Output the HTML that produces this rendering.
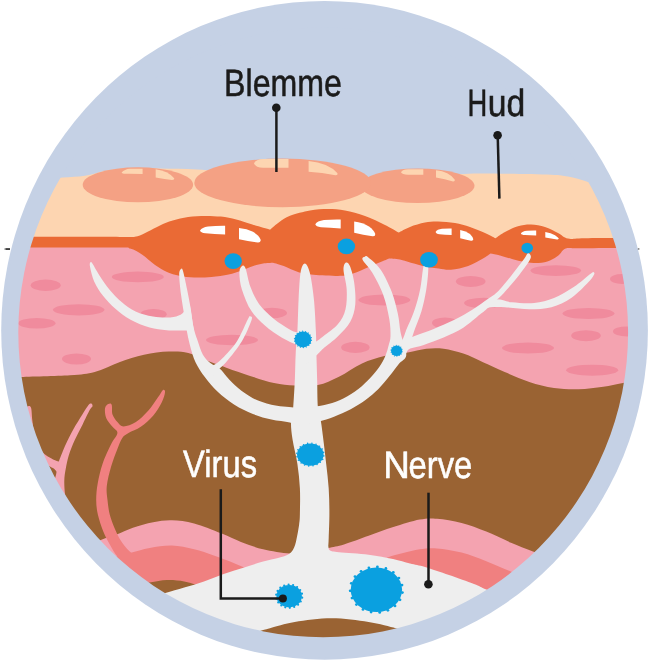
<!DOCTYPE html>
<html><head><meta charset="utf-8">
<style>
html,body{margin:0;padding:0;background:#fff;}
body{width:649px;height:662px;overflow:hidden;font-family:"Liberation Sans",sans-serif;}
svg{display:block;}
text{font-family:"Liberation Sans",sans-serif;}
</style></head><body>
<svg width="649" height="662" viewBox="0 0 649 662">
<defs><clipPath id="c"><circle cx="323.2" cy="332.4" r="308.5"/></clipPath></defs>
<ellipse cx="324.55" cy="330.35" rx="323.35" ry="329.35" fill="#c5d1e5"/>
<g clip-path="url(#c)">
<path d="M40,179 C43.8,178.8 55.5,178 63,177.5 C70.5,177 78,176.9 85,175.8 C92,174.7 98.3,172.2 105,171 C111.7,169.8 115.8,169 125,168.6 C134.2,168.2 148,168.3 160,168.5 C172,168.7 183.7,168.8 197,169.5 C210.3,170.2 222.8,171.8 240,173 C257.2,174.2 283.3,175.8 300,177 C316.7,178.2 329,179.2 340,180 C351,180.8 357.3,182 366,182 C374.7,182 383,180.8 392,180 C401,179.2 408,178 420,177 C432,176 450.7,174.6 464,174 C477.3,173.4 485.5,173.6 500,173.7 C514.5,173.8 539.7,174.2 551,174.7 C562.3,175.2 561.8,175.4 568,176.6 C574.2,177.8 581,179.9 588,182 C595,184.1 606.3,187.8 610,189 L649,260 L0,260Z" fill="#fdd5b1"/>
<g fill="#f4a184">
<ellipse cx="417.6" cy="185.75" rx="56.9" ry="17.25"/>
<ellipse cx="137.9" cy="184.8" rx="55.2" ry="17.5"/>
<ellipse cx="282.6" cy="182.9" rx="88.3" ry="24.3"/>
</g>
<g fill="#fdd5b1">
<path d="M121.6,172.6 Q124.5,169 130,168.7 L142.6,168.7 L142.6,174 Q131,173.6 124,173.8 Q121.6,173.6 121.6,172.6Z"/>
<path d="M155.7,169.3 Q168,171 174.2,178.3 Q174.6,180 172,180 Q165,179.3 155.7,177.4Z"/>
<path d="M254,163.4 Q256,159 263,158.9 L288.5,158.9 L288.5,167.7 L263,167.7 Q256,167.5 254,163.4Z"/>
<path d="M308.6,161.1 Q328,163 337.5,173.2 Q338,175.5 335.5,175.3 Q322,172.5 308.6,171.7Z"/>
<path d="M401,172.2 Q402.5,169.4 408,169.3 L423.3,169.3 L423.3,174.7 L408,174.7 Q402,174.6 401,172.2Z"/>
<path d="M436,170.3 Q449,171.5 454.8,179.8 Q455.2,181.8 453,181.6 Q445,179 436,177.5Z"/>
</g>
<rect x="0" y="243" width="649" height="170" fill="#f4a3b0"/>
<g fill="#f08b9d"><ellipse cx="45.7" cy="285.3" rx="15" ry="5.7"/><ellipse cx="78.7" cy="309.8" rx="25.8" ry="5.6"/><ellipse cx="36.8" cy="323.3" rx="18.7" ry="5.3"/><ellipse cx="76.5" cy="359" rx="14.5" ry="5.5"/><ellipse cx="137.8" cy="276.9" rx="26" ry="5.3"/><ellipse cx="153.5" cy="314.2" rx="13.2" ry="5.3"/><ellipse cx="232" cy="340" rx="26" ry="5.2"/><ellipse cx="272" cy="313" rx="15" ry="5.2"/><ellipse cx="355.4" cy="347.4" rx="14.2" ry="5.6"/><ellipse cx="384.4" cy="300" rx="26" ry="5.5"/><ellipse cx="445" cy="323" rx="13" ry="5.5"/><ellipse cx="470.7" cy="281.4" rx="14.8" ry="5.5"/><ellipse cx="483.8" cy="303" rx="19.7" ry="5.3"/><ellipse cx="555.8" cy="270.6" rx="25.3" ry="5.3"/><ellipse cx="622" cy="279" rx="12" ry="5"/><ellipse cx="588.5" cy="313.5" rx="26" ry="5.5"/><ellipse cx="586" cy="335.7" rx="14.8" ry="5.5"/><ellipse cx="627" cy="331.4" rx="14" ry="5"/><ellipse cx="528" cy="348" rx="26" ry="5.5"/><ellipse cx="592.2" cy="370.2" rx="26" ry="5.5"/></g>
<path d="M0,236.8 C20,236.8 97.5,236.9 120,236.9 C142.5,236.9 130.7,237.4 134.8,236.8 C138.9,236.2 141,234.8 144.7,233.2 C148.4,231.6 152.9,228.9 157,227 C161.1,225.1 164.8,223.2 169.3,221.6 C173.8,220 178.8,218.6 184.1,217.7 C189.4,216.8 195.3,216.2 201.4,216 C207.5,215.8 215,216 220.8,216.6 C226.6,217.2 231.1,218.3 236.2,219.6 C241.3,220.9 245.9,222.6 251.6,224.3 C257.2,226 267,228.8 270.1,229.7 C271.7,228.4 276.1,224.3 279.4,222 C282.7,219.7 284.9,217.7 290,215.8 C295.1,213.9 303.7,211.6 310,210.5 C316.3,209.4 322.2,209 328,209 C333.8,209 338.8,209.3 345,210.5 C351.2,211.7 358.3,213.6 365,216 C371.7,218.4 379.4,222.2 385,225 C390.6,227.8 396.3,231.3 398.6,232.6 C400.5,231.7 405.6,228.7 410,227 C414.4,225.3 420.3,223.5 425,222.6 C429.7,221.7 433,221.4 438,221.5 C443,221.6 449.7,222.1 455,223 C460.3,223.9 465,225.3 470,227 C475,228.7 480.8,231.1 485,233 C489.2,234.9 493.8,237.4 495.5,238.3 C497.1,237.2 501.2,234 505,232 C508.8,230 513.7,227.6 518,226.3 C522.3,225.1 526.5,224.4 531,224.5 C535.5,224.6 540.5,225.6 545,227 C549.5,228.4 554.2,231.1 558,233 C561.8,234.9 563.5,237.7 568,238.6 C572.5,239.5 571.5,238.3 585,238.2 C598.5,238.1 638.3,238 649,238 L649,247.9 C637.5,247.9 593.9,248.1 580,248.2 C566.1,248.3 569.2,247.5 565.7,248.6 C562.2,249.7 561.6,253 559,255 C556.4,257 553.4,259.2 550,260.5 C546.6,261.8 542.8,262.8 538.6,263 C534.4,263.2 529.4,262.7 525,262 C520.6,261.3 516.2,260.1 512,259 C507.8,257.9 503.6,256.4 500,255.5 C496.4,254.6 492.1,253.8 490.5,253.5 C489.2,254.3 486.7,256.5 483,258.6 C479.3,260.7 473.5,264.1 468.2,266 C462.9,267.9 455.9,269.3 451,269.7 C446.1,270.1 442.8,269 438.6,268.5 C434.4,268 430.1,267.6 426,266.8 C421.9,266 418.1,264.8 414,263.6 C409.9,262.5 405.7,260.7 401.6,259.9 C397.5,259.1 391.4,258.8 389.3,258.6 C387.2,259.4 381.9,261.5 377,263.6 C372.1,265.7 364.2,269.2 359.7,271 C355.2,272.8 353.6,273.7 350,274.5 C346.4,275.3 344.1,275.9 338,275.9 C331.9,275.9 320,275.3 313.4,274.7 C306.8,274.1 303.5,273.6 298.6,272.2 C293.7,270.8 288.1,267.6 283.8,266 C279.5,264.4 274.8,263.2 273,262.7 C271.4,262.8 266.4,262.9 263.1,263.4 C259.8,263.9 257,264.7 253.3,265.9 C249.6,267.1 245.1,269.4 241,270.8 C236.9,272.2 233.5,273.5 228.6,274.5 C223.7,275.5 217.2,276.5 211.4,277 C205.7,277.5 199.4,277.7 194.1,277.5 C188.8,277.3 183.8,276.6 179.3,275.7 C174.8,274.8 171.1,273.8 167,272 C162.9,270.2 158.8,267.6 154.7,264.7 C150.6,261.8 146.4,257.5 142.3,254.8 C138.2,252.1 134.6,249.8 130,248.6 C125.5,247.4 136.7,247.7 115,247.5 C93.3,247.3 19.2,247.4 0,247.4Z" fill="#ea6a35"/>
<g fill="#ffffff">
<path d="M200,230.4 Q202,227.6 208,226.6 Q216,225.7 225.1,225.8 L225.1,234.6 Q214,233.9 205.4,233.2 Q200.5,232.6 200,230.4Z"/>
<path d="M239,228.1 Q247,228.6 253,231.8 Q259,235.2 260.6,239.5 Q261,242.6 257.8,242.4 Q249,241.6 239,239.2Z"/>
<path d="M315.3,224.3 Q317,221 324,220 Q332,219.3 340.7,219.5 L340.7,228.4 Q330,227.7 321,227.2 Q315.8,226.6 315.3,224.3Z"/>
<path d="M354.2,221.5 Q363,222.5 369,226.5 Q374,230.2 375.2,233.8 Q375.5,236.6 372.5,236.3 Q363,235 354.2,232.8Z"/>
<path d="M435.6,232 Q437,229.3 442,228.7 Q447,228.3 451.6,228.4 L451.6,235 Q445,234.6 439.5,234.2 Q436,233.8 435.6,232Z"/>
<path d="M460.2,230 Q466,230.8 470,234 Q473,237 473.3,239.3 Q473.3,241 471,240.7 Q465,239.8 460.2,238.3Z"/>
<path d="M520.9,233.4 Q522,231.3 527,230.8 Q532,230.5 536.2,230.6 L536.2,235.6 Q530,235.3 525,235.1 Q521.3,234.8 520.9,233.4Z"/>
<path d="M545.3,232 Q551,232.8 555,235.2 Q558.3,237.4 558.8,238.6 Q558.8,239.6 557,239.4 Q551,238.8 545.3,237.6Z"/>
</g>
<path d="M0,377.5 C3,377.4 6.3,377.4 18,377 C29.7,376.6 57.2,376 70,375.2 C82.8,374.4 86.5,374.2 94.7,372 C102.9,369.8 111.1,365.1 119.3,362.2 C127.5,359.3 135.8,356.6 144,354.8 C152.2,353 161.2,351.9 168.6,351.6 C176,351.3 181.7,351.4 188.3,353 C194.9,354.6 201.6,358.5 208,361 C214.4,363.5 220.1,365.4 227,367.9 C233.9,370.3 241.5,373.2 249.3,375.7 C257.1,378.2 266.4,381.4 274,383 C281.6,384.6 287.6,385.2 294.9,385.6 C302.2,386 310.5,386.6 317.9,385.1 C325.2,383.6 331.6,380.4 339,376.8 C346.4,373.2 354.4,367 362,363.5 C369.6,360 376.6,357.9 384.4,356 C392.2,354.1 402,353.5 409,352.3 C416,351.1 420.5,349.4 426.3,348.8 C432.1,348.2 437.4,348 443.6,348.8 C449.8,349.6 456.7,351.4 463.3,353.6 C469.9,355.8 476.1,359.1 483,362.2 C489.9,365.3 497,368.7 504.7,372 C512.4,375.3 521.1,379.2 529.3,381.9 C537.5,384.6 545.8,386.8 554,388 C562.2,389.2 570.4,389.5 578.6,389.3 C586.8,389.1 595.9,387.9 603.3,386.8 C610.7,385.8 615.4,384.5 623,383 C630.6,381.5 644.7,378.8 649,378 L649,662 L0,662Z" fill="#9a6333"/>
<g fill="#f4a3b0">
<path d="M40,512 C41.3,509 45.5,499.8 48,494 C50.5,488.2 53.8,481.8 55.3,477.5 C56.8,473.2 56.4,470.8 57,468 C57.6,465.2 57.5,464.9 59,461 C60.5,457.1 63.4,449.6 65.8,444.3 C68.2,439 70.6,434.2 73.4,429.2 C76.2,424.2 80,418.2 82.5,414.2 C85,410.2 87,406.8 88.5,405 C90,403.2 90.6,403.4 91.3,403.6 C92,403.8 92.7,405.2 92.5,406.2 C92.3,407.2 91.7,406.5 90,409.6 C88.3,412.7 85,419.7 82.5,424.7 C80,429.7 77.2,434.8 74.9,439.8 C72.6,444.8 70.4,450.1 68.9,454.9 C67.4,459.7 66.6,464.2 65.8,468.5 C65,472.8 64.4,476.4 64.3,480.6 C64.2,484.9 64.5,489.8 65,494 C65.5,498.2 67.8,502.3 67,506 C66.2,509.7 61.2,514.3 60,516Z"/>
<path d="M57,472 C56.5,471.4 55.2,469.6 53.8,468.5 C52.4,467.4 51.5,467.8 48.5,465.5 C45.5,463.2 39.2,459.2 36,455 C32.8,450.8 30.7,445 29,440 C27.3,435 26.7,430 26,425 C25.3,420 24.6,413.1 25,410 C25.4,406.9 27.1,406.6 28.1,406.3 C29.1,406 30.4,405.7 31.1,408 C31.8,410.3 31.8,416.1 32.3,420.2 C32.8,424.2 33.3,428.5 34.2,432.3 C35.1,436.1 36.1,439.7 37.5,443 C38.9,446.3 40.5,449.5 42.5,451.9 C44.5,454.3 46.8,455.7 49.2,457.2 C51.6,458.7 54.7,460.2 56.8,461 C58.9,461.8 61.1,461.8 62,462Z"/>
</g>
<path d="M92,544 C93.6,543.3 98.4,541 101.4,539.8 C104.4,538.6 107.4,537.5 110,536.6 C112.6,535.7 113.4,535.7 117.2,534.2 C121,532.7 126.9,529.7 132.9,527.7 C138.9,525.7 146.7,523.4 153.2,522.2 C159.7,521 165.1,520.1 171.9,520.3 C178.7,520.5 185.9,521.2 194.1,523.4 C202.3,525.6 213.4,530.2 221.2,533.3 C229,536.4 234,539.2 241,541.9 C248,544.6 254.9,547.3 263.1,549.3 C271.3,551.2 282.2,553.1 290,553.6 C297.8,554.1 303.7,552.9 310,552 C316.3,551.1 322.2,549.3 327.9,548 C333.6,546.7 337.2,546.4 344,544.4 C350.8,542.4 360.4,538.7 368.6,535.8 C376.8,532.9 384.8,529.8 393.3,527.1 C401.8,524.4 412.4,521 419.7,519.6 C427,518.2 430,518.2 437,518.8 C444,519.4 453.4,520.9 461.6,523 C469.8,525.1 478.1,528.3 486.3,531.6 C494.5,534.9 503.2,539.4 511,542.7 C518.8,546 524.8,548.2 533,551.4 C541.2,554.6 555.5,560.2 560,562 L560,640 L90,640Z" fill="#f4a3b0"/>
<path d="M100,562 C102.5,561.2 110,558.5 115,557 C120,555.5 124.2,554.5 130,553 C135.8,551.5 142.7,549.2 149.7,548 C156.7,546.8 164.5,545.4 171.9,545.6 C179.3,545.8 187.1,547.6 194.1,549.3 C201.1,550.9 207.2,553.2 213.8,555.5 C220.4,557.8 227.6,560.5 233.6,562.9 C239.6,565.3 247.3,568.8 250,570 L250,600 L100,600Z" fill="#f08080"/>
<path d="M380,562 C381.4,561.2 384.4,558.7 388.3,557.2 C392.2,555.7 397.9,554.3 403.1,553 C408.3,551.7 414.1,550.1 419.7,549.3 C425.3,548.5 430,547.8 437,548.4 C444,549 453.4,550.5 461.6,552.6 C469.8,554.7 478.3,558.1 486.3,561.2 C494.3,564.3 502.4,567.9 509.7,571 C517,574.1 526.6,578.5 530,580 L530,620 L380,620Z" fill="#f08080"/>
<path d="M130,586 C133.3,585.4 143.5,583.6 149.7,582.6 C155.9,581.6 161.2,580.3 167,580.1 C172.8,579.9 179.3,580.6 184.2,581.4 C189.1,582.2 192.3,583.6 196.6,585 C200.9,586.4 207.8,589.2 210,590 L200,600 L130,600Z" fill="#9a6333"/>
<g fill="#f08080">
<path d="M131,570.3 C128.8,568.1 121.5,561.6 118,557.3 C114.5,553 112.2,548.7 109.8,544.4 C107.3,540.1 105.3,536.3 103.3,531.4 C101.3,526.5 99.1,520 97.9,514.8 C96.7,509.6 96.2,505.2 96.2,500 C96.2,494.8 96.6,489.6 97.7,483.6 C98.8,477.6 100.3,470.4 102.6,463.8 C104.8,457.2 108.7,449.2 111.2,444.1 C113.7,439 117.2,435.9 117.4,433 C117.6,430.1 114.3,429.3 112.5,426.8 C110.7,424.3 107.5,421.3 106.3,418.2 C105,415.1 104.7,410.8 105,408.4 C105.3,406 107.2,404.6 108.3,404 C109.4,403.4 111,402.9 111.7,404.7 C112.4,406.4 111.5,411.6 112.5,414.5 C113.5,417.4 115.6,420 117.4,422 C119.2,424 120.5,426.4 123.6,426.4 C126.7,426.4 131.8,424.6 135.9,422 C140,419.4 144.5,414.9 148.2,410.8 C151.9,406.7 155.5,400.8 158,397.3 C160.5,393.8 161.8,390.7 163,389.9 C164.2,389.1 165.2,390.2 165,392.3 C164.8,394.4 163.8,398.3 161.8,402.2 C159.8,406.1 156.6,411.7 153.1,415.8 C149.6,419.9 144.9,423.9 140.8,426.8 C136.7,429.7 131.6,431.1 128.5,433 C125.4,434.9 124.1,435.2 122.3,437.9 C120.5,440.6 119.2,444.3 117.4,449 C115.6,453.7 113,460.1 111.2,466.3 C109.4,472.5 107.4,480.4 106.8,486 C106.2,491.6 107,495.2 107.5,500 C108,504.8 108.6,510.2 109.8,514.8 C111,519.4 112.6,523.4 114.4,527.7 C116.2,532 118.4,536.8 120.9,540.7 C123.4,544.6 125.7,547.7 129.2,550.9 C132.7,554.1 139.9,558.5 142,560Z"/>
</g>
<g fill="#eeeeee">
<path d="M140,601 C144.1,599.7 157.1,595.5 164.5,593.2 C171.9,591 177.6,589.5 184.2,587.5 C190.8,585.5 197.4,583.6 204,581.4 C210.6,579.1 217.1,576.3 223.7,574 C230.3,571.7 236.8,569.9 243.4,567.8 C250,565.7 257.3,563.2 263.1,561.6 C268.9,560 274.2,559 278,558 C281.8,557 283.6,556.8 286,555.6 C288.4,554.4 290.6,553.3 292.2,551 C293.8,548.7 294.8,546.3 295.9,541.9 C297,537.5 298.4,529.5 299.1,524.7 C299.8,519.9 299.8,519.3 299.9,513.3 C300,507.3 300.3,496.8 299.9,488.6 C299.5,480.4 298.6,472.2 297.4,464 C296.2,455.8 293.6,446.3 292.5,439.3 C291.4,432.3 290.9,427.3 291,422 C291.1,416.7 292.6,414.6 293.2,407.3 C293.8,400 294.5,387.1 294.9,378.2 C295.3,369.2 295.3,361.4 295.7,353.6 C296.1,345.8 296.9,340.4 297.4,331.4 C297.9,322.3 298.1,309.2 298.6,299.3 C299.1,289.4 299.6,278.2 300.6,272.2 C301.6,266.2 303.3,263.4 304.8,263.4 C306.3,263.4 308.2,266.2 309.7,272.2 C311.2,278.2 312.9,289.4 313.9,299.3 C314.9,309.2 315.5,322.3 315.9,331.4 C316.3,340.4 316.2,345.8 316.4,353.6 C316.6,361.4 316.9,369.2 317.1,378.2 C317.4,387.1 317.3,400.2 317.9,407.3 C318.5,414.4 319.9,415.5 320.8,420.8 C321.7,426.1 322.4,432.1 323.3,439.3 C324.2,446.5 325.3,455.8 326.2,464 C327.1,472.2 328.2,480.4 328.7,488.6 C329.2,496.8 329.4,505.1 329.4,513.3 C329.4,521.5 328.9,532.5 328.7,538 C328.5,543.5 328.4,544.7 328.3,546 C328.6,546.8 328.2,549.6 330,550.6 C331.8,551.6 332.6,551.6 339,552.3 C345.4,553 359.6,553.6 368.6,554.7 C377.6,555.8 386.1,557.5 393,559 C399.9,560.5 404.7,562.2 410,563.5 C415.3,564.8 418.5,565.1 425,567 C431.5,568.9 440.8,572.2 449,575 C457.2,577.8 467.8,581.6 474,584 C480.2,586.4 480.3,586.9 486.3,589.6 C492.3,592.3 506.1,598.3 510,600 L510,662 L140,662Z"/>
<path d="M300,426 C298.3,425.4 294.6,423.6 289.8,422.5 C285,421.4 277.5,420.9 271.4,419.5 C265.2,418.1 259.1,416.5 252.9,414 C246.7,411.5 240.3,408.4 234.4,404.7 C228.5,401 222.6,396.4 217.7,391.8 C212.8,387.2 208.5,381.9 204.8,377 C201.1,372.1 198,367.4 195.5,362.2 C193,356.9 191.5,351.2 190,345.5 C188.5,339.8 187.3,333.4 186.3,328 C185.3,322.6 184.8,318.5 183.9,312.9 C183,307.3 181.8,300.8 181,294.4 C180.2,288 179.2,278.9 179.2,274.7 C179.2,270.5 180.4,269.6 181,269 C181.6,268.4 182,267.6 183,271 C184,274.4 185.8,283 187.1,289.4 C188.4,295.8 189.8,303 190.8,309.2 C191.8,315.4 192.2,321.3 193.3,326.4 C194.4,331.5 195.8,335.3 197.4,340 C199,344.7 200.8,350.9 202.9,354.8 C205.1,358.7 207.5,360.8 210.3,363.1 C213.1,365.4 216.8,366.2 219.6,368.5 C222.4,370.8 223.9,373.7 227,377 C230.1,380.3 233.8,384.6 238.1,388.1 C242.4,391.6 247.4,395.4 252.9,398.2 C258.4,401 264.6,403.1 271.4,404.7 C278.2,406.2 288.8,406.9 293.6,407.5 C298.4,408.1 298.9,407.9 300,408Z"/>
<path d="M194,331 C192.6,330.9 190.3,330.7 185.8,330.6 C181.3,330.5 172.8,330.7 166.8,330.2 C160.8,329.7 155.6,329.3 149.6,327.6 C143.6,325.9 136.3,323 130.6,319.8 C124.8,316.6 119.7,312.6 115.1,308.6 C110.5,304.6 106.5,300.1 103,295.7 C99.5,291.2 96.6,286.8 94.4,281.9 C92.2,277 90.6,269.7 90,266.4 C89.4,263.1 90.2,262.7 90.6,262.3 C91,261.9 91.1,261.7 92.6,263.8 C94,265.9 96.5,270.9 99.3,275.2 C102.1,279.5 105.9,285.3 109.6,289.8 C113.3,294.3 117.3,298.4 121.6,302 C125.9,305.6 130.4,309 135.6,311.4 C140.8,313.8 147.2,315.6 153,316.6 C158.8,317.6 165.7,317.7 170.3,317.4 C174.9,317.1 178.2,315.8 180.6,314.7 C183,313.6 183,312.4 184.6,311 C186.2,309.6 189.1,306.8 190,306Z"/>
<path d="M206,366 C207.1,366 209.6,367.1 212.3,365.9 C215,364.6 218.1,362.6 222.2,358.5 C226.3,354.4 232.7,347.8 237,341.2 C241.3,334.6 245.8,323.1 248,319 C250.2,314.9 249.9,316.3 250.5,316.5 C251.1,316.7 252.9,316.2 251.5,320.3 C250.1,324.4 246,334.4 241.9,341.2 C237.8,348 231.2,356.1 227.1,361 C223,365.9 219.8,368 217.3,370.8 C214.8,373.6 212.9,376.8 212,378Z"/>
<path d="M305,349 C303.7,348.3 300.5,346.5 297.4,345 C294.3,343.5 291,342.7 286.3,340 C281.6,337.3 274.8,333.6 269,328.9 C263.2,324.2 256.3,318.2 251.8,311.6 C247.3,305 244,296 241.9,289.4 C239.8,282.8 239.3,276.1 239.4,272.2 C239.5,268.3 241.4,266.4 242.4,265.8 C243.4,265.2 244.2,265 245.6,268.5 C246.9,272 248.2,281.1 250.5,287 C252.8,292.9 255.3,298.9 259.2,304.2 C263.1,309.5 269.1,314.9 274,319 C278.9,323.1 284.9,326.6 288.8,328.9 C292.7,331.2 294.7,331.8 297.4,332.6 C300.1,333.5 303.7,333.8 305,334Z"/>
<path d="M306,346 C307.6,345.3 313,343.3 315.9,341.7 C318.8,340.1 319.6,339.2 323.3,336.3 C327,333.4 334.3,328.5 338,324 C341.7,319.5 344.1,315 345.5,309.2 C346.9,303.4 347,296 346.7,289.4 C346.4,282.8 343.6,274.2 343.5,269.7 C343.4,265.2 344.9,263.2 346,262.6 C347.1,262 348.5,262.8 349.9,266 C351.2,269.2 353.2,275.6 354.1,282 C355,288.4 355.9,297.6 355.3,304.2 C354.7,310.8 353.3,316.1 350.4,321.5 C347.5,326.9 342.5,331.8 338,336.3 C333.5,340.8 326.8,345.5 323.3,348.6 C319.8,351.7 320,352.2 317.1,354.8 C314.2,357.4 307.9,362.5 306,364Z"/>
<path d="M308,408 C309.6,407.7 313.4,407.1 317.4,406.2 C321.4,405.3 327.3,404.5 332.2,402.9 C337.1,401.3 342.1,399.2 347,396.4 C351.9,393.6 357.5,389.8 361.8,386.2 C366.1,382.6 369.7,378.8 372.9,375.1 C376.1,371.4 379,367.4 381.2,364 C383.4,360.6 384.6,357.9 385.8,354.8 C387,351.7 387.8,348.6 388.6,345.5 C389.4,342.4 390.4,340.7 390.5,336.3 C390.6,331.9 390.5,326 389.3,319 C388.1,312 386,302.2 383.1,294.4 C380.2,286.6 375.4,277.9 372,272.2 C368.6,266.4 363.9,262.5 362.7,259.9 C361.5,257.3 363.8,257.1 364.7,256.7 C365.6,256.3 365.7,255.2 368.4,257.4 C371.1,259.6 376.8,263.9 380.7,269.7 C384.6,275.4 388.9,284.5 391.8,291.9 C394.7,299.3 396.5,307.5 397.9,314.1 C399.3,320.7 399.6,326.9 400.4,331.4 C401.2,335.9 401.9,337.1 402.9,341.2 C403.9,345.2 406.9,351.9 406.2,355.7 C405.5,359.5 401.6,360.6 398.8,364 C396,367.4 392.9,371.9 389.5,376.1 C386.1,380.3 382.4,385 378.4,389 C374.4,393 370.1,396.7 365.5,400.1 C360.9,403.5 355.9,406.5 350.7,409.3 C345.4,412.1 339.2,414.7 334,416.7 C328.8,418.7 323.5,420.2 319.2,421.4 C314.9,422.6 309.9,423.6 308,424Z"/>
<path d="M396,352 C397.1,349.8 401.1,342.7 402.9,338.8 C404.7,334.9 404.8,333.4 406.6,328.9 C408.5,324.4 411.8,318.2 414,311.6 C416.2,305 418.6,296.8 420.1,289.4 C421.7,282 422.3,271.9 423.3,267.3 C424.3,262.7 425.2,262 426,262 C426.8,262 428.2,262.7 428.3,267.3 C428.4,271.9 427.5,282 426.3,289.4 C425.1,296.8 423.4,304.6 421.4,311.6 C419.3,318.6 415.9,326 414,331.4 C412.1,336.8 412,339.3 410.3,343.7 C408.6,348.1 405.1,355.6 404,358Z"/>
<path d="M398,343 C400.7,341.9 408.1,338.7 414,336.3 C419.9,333.9 427.1,331.6 433.7,328.9 C440.3,326.2 446.8,323.6 453.4,320.3 C460,317 467.4,312.7 473.1,309.2 C478.8,305.7 483.4,302.2 487.4,299.3 C491.4,296.4 493.2,296.1 497.3,292 C501.4,287.9 507.5,280.3 512,274.7 C516.5,269.1 521.7,262.2 524.4,258.6 C527.1,255 527,253 528,253 C529,253 531.9,255 530.5,258.6 C529.1,262.2 523.7,269.1 519.4,274.7 C515.1,280.3 508.4,287.9 504.7,292 C501,296.1 500.1,296.7 497.3,299.3 C494.5,301.9 490.7,305.4 487.9,307.9 C485.1,310.4 484.6,310.8 480.5,314.1 C476.4,317.4 469.4,323.8 463.3,327.7 C457.2,331.6 450.2,334.6 443.6,337.5 C437,340.4 429.4,343 423.8,344.9 C418.2,346.8 413.9,346.8 410.3,348.6 C406.7,350.5 403.4,354.8 402,356Z"/>
<path d="M484,302 C486.2,301.6 492.6,299.2 497.3,299.3 C502,299.4 505.9,301.7 512,302.3 C518.1,302.9 527.2,303.7 534.2,303 C541.2,302.3 547.4,300.7 554,298 C560.6,295.3 567.5,291.1 573.7,287 C579.9,282.9 587.6,275.8 591,273.4 C594.4,271 593.4,272.3 593.9,272.5 C594.4,272.7 594.9,273.1 594,274.7 C593.1,276.3 592.3,278.1 588.5,282 C584.7,285.9 577.4,293.8 571.2,298 C565,302.2 558.5,305.3 551.5,307.2 C544.5,309.1 537.1,309.2 529.3,309.2 C521.5,309.2 511.7,307.4 504.7,307.2 C497.7,307 491.8,306.9 487.4,308 C482.9,309.1 479.6,313 478,314Z"/>
</g>
<path d="M255,634 C255.9,633.5 258.2,631.7 260.7,630.7 C263.2,629.7 264.3,629.7 270,628.2 C275.7,626.8 284.4,623.6 294.7,622 C305,620.4 319.3,618.3 331.6,618.3 C343.9,618.3 357.9,620.4 368.6,622 C379.3,623.6 390.5,626.9 395.7,628.2 C400.9,629.5 399.3,629.7 400,630 L400,662 L255,662Z" fill="#9a6333"/>
<ellipse cx="233.2" cy="261.1" rx="8.7" ry="7.9" fill="#0aa0e0"/>
<ellipse cx="346.4" cy="246.4" rx="8.7" ry="7.8" fill="#0aa0e0"/>
<ellipse cx="429" cy="259.7" rx="8.9" ry="7.8" fill="#0aa0e0"/>
<ellipse cx="527.2" cy="248.1" rx="5.8" ry="5.3" fill="#0aa0e0"/>
<ellipse cx="303" cy="339.4" rx="8.4" ry="8" fill="#0aa0e0"/><g fill="#0aa0e0"><circle cx="311.5" cy="340.5" r="0.6"/><circle cx="310.6" cy="343.2" r="0.6"/><circle cx="308.8" cy="345.4" r="0.6"/><circle cx="306.3" cy="347" r="0.6"/><circle cx="303.4" cy="347.6" r="0.6"/><circle cx="300.4" cy="347.2" r="0.6"/><circle cx="297.8" cy="345.9" r="0.6"/><circle cx="295.7" cy="343.8" r="0.6"/><circle cx="294.6" cy="341.2" r="0.6"/><circle cx="294.5" cy="338.3" r="0.6"/><circle cx="295.4" cy="335.6" r="0.6"/><circle cx="297.2" cy="333.4" r="0.6"/><circle cx="299.7" cy="331.8" r="0.6"/><circle cx="302.6" cy="331.2" r="0.6"/><circle cx="305.6" cy="331.6" r="0.6"/><circle cx="308.2" cy="332.9" r="0.6"/><circle cx="310.3" cy="335" r="0.6"/><circle cx="311.4" cy="337.6" r="0.6"/></g>
<ellipse cx="396.6" cy="350.8" rx="5.6" ry="5.3" fill="#0aa0e0"/><g fill="#0aa0e0"><circle cx="402.3" cy="351.7" r="0.5"/><circle cx="401.3" cy="354" r="0.5"/><circle cx="399.4" cy="355.6" r="0.5"/><circle cx="396.9" cy="356.3" r="0.5"/><circle cx="394.4" cy="355.9" r="0.5"/><circle cx="392.3" cy="354.5" r="0.5"/><circle cx="391.1" cy="352.3" r="0.5"/><circle cx="390.9" cy="349.9" r="0.5"/><circle cx="391.9" cy="347.6" r="0.5"/><circle cx="393.8" cy="346" r="0.5"/><circle cx="396.3" cy="345.3" r="0.5"/><circle cx="398.8" cy="345.7" r="0.5"/><circle cx="400.9" cy="347.1" r="0.5"/><circle cx="402.1" cy="349.3" r="0.5"/></g>
<ellipse cx="310.3" cy="454.6" rx="13.3" ry="11.1" fill="#0aa0e0"/><g fill="#0aa0e0"><circle cx="323.8" cy="455.9" r="0.8"/><circle cx="322.7" cy="459.4" r="0.8"/><circle cx="320.3" cy="462.3" r="0.8"/><circle cx="317" cy="464.5" r="0.8"/><circle cx="313" cy="465.8" r="0.8"/><circle cx="308.7" cy="465.9" r="0.8"/><circle cx="304.6" cy="465" r="0.8"/><circle cx="301.1" cy="463" r="0.8"/><circle cx="298.4" cy="460.2" r="0.8"/><circle cx="297" cy="456.8" r="0.8"/><circle cx="296.8" cy="453.3" r="0.8"/><circle cx="297.9" cy="449.8" r="0.8"/><circle cx="300.3" cy="446.9" r="0.8"/><circle cx="303.6" cy="444.7" r="0.8"/><circle cx="307.6" cy="443.4" r="0.8"/><circle cx="311.9" cy="443.3" r="0.8"/><circle cx="316" cy="444.2" r="0.8"/><circle cx="319.5" cy="446.2" r="0.8"/><circle cx="322.2" cy="449" r="0.8"/><circle cx="323.6" cy="452.4" r="0.8"/></g>
<ellipse cx="289.2" cy="596.2" rx="12.7" ry="11.2" fill="#0aa0e0"/><g fill="#0aa0e0"><circle cx="302.2" cy="597.7" r="1.1"/><circle cx="300.8" cy="601.5" r="1.1"/><circle cx="298.1" cy="604.7" r="1.1"/><circle cx="294.2" cy="606.9" r="1.1"/><circle cx="289.8" cy="607.8" r="1.1"/><circle cx="285.3" cy="607.3" r="1.1"/><circle cx="281.3" cy="605.4" r="1.1"/><circle cx="278.2" cy="602.4" r="1.1"/><circle cx="276.4" cy="598.7" r="1.1"/><circle cx="276.2" cy="594.7" r="1.1"/><circle cx="277.6" cy="590.9" r="1.1"/><circle cx="280.3" cy="587.7" r="1.1"/><circle cx="284.2" cy="585.5" r="1.1"/><circle cx="288.6" cy="584.6" r="1.1"/><circle cx="293.1" cy="585.1" r="1.1"/><circle cx="297.1" cy="587" r="1.1"/><circle cx="300.2" cy="590" r="1.1"/><circle cx="302" cy="593.7" r="1.1"/></g>
<ellipse cx="376.4" cy="589.8" rx="25.7" ry="22.3" fill="#0aa0e0"/><g fill="#0aa0e0"><circle cx="402.4" cy="592.6" r="1.4"/><circle cx="400" cy="599.8" r="1.4"/><circle cx="395" cy="605.9" r="1.4"/><circle cx="387.9" cy="610.3" r="1.4"/><circle cx="379.7" cy="612.4" r="1.4"/><circle cx="371.1" cy="612.1" r="1.4"/><circle cx="363" cy="609.4" r="1.4"/><circle cx="356.4" cy="604.6" r="1.4"/><circle cx="352" cy="598.1" r="1.4"/><circle cx="350.2" cy="590.8" r="1.4"/><circle cx="351.3" cy="583.3" r="1.4"/><circle cx="355" cy="576.6" r="1.4"/><circle cx="361.1" cy="571.3" r="1.4"/><circle cx="368.9" cy="568" r="1.4"/><circle cx="377.4" cy="567" r="1.4"/><circle cx="385.9" cy="568.5" r="1.4"/><circle cx="393.3" cy="572.4" r="1.4"/><circle cx="398.9" cy="578.1" r="1.4"/><circle cx="402" cy="585.1" r="1.4"/></g>
</g>
<path fill-rule="evenodd" fill="#c5d1e5" d="M3.6,330.4 a321,327 0 1,0 642,0 a321,327 0 1,0 -642,0Z M18.3,332.4 a304.9,304.9 0 1,0 609.8,0 a304.9,304.9 0 1,0 -609.8,0Z"/>
<g stroke="#1a1a1a" stroke-width="2.5" fill="none" stroke-linecap="butt">
<path d="M276.4,108 L276.4,172"/>
<path d="M497.7,135 L499.4,198.6"/>
<path d="M220.8,489.2 L220.8,598.6 L283,598.6"/>
<path d="M428.5,492.7 L428.5,584"/>
</g>
<g fill="#1a1a1a"><circle cx="276.3" cy="107.8" r="4.3"/><circle cx="497.6" cy="135.2" r="4.3"/><circle cx="282.9" cy="598.6" r="4"/><circle cx="428.4" cy="584.3" r="4.3"/></g>
<g font-size="38" fill="#1a1a1a" stroke="#1a1a1a" stroke-width="0.55" text-rendering="geometricPrecision" opacity="0.996">
<text transform="translate(224.1,95.6) scale(0.845,1)">Blemme</text>
<text transform="translate(467.4,116.1) scale(0.72,1)">H</text><text transform="translate(487.8,116.1) scale(0.885,1)">ud</text>
<text fill="#fff" stroke="#fff" transform="translate(183.1,477.3) scale(0.86,1)">Virus</text>
<text fill="#fff" stroke="#fff" transform="translate(383.2,477.6) scale(0.97,1)">N</text><text fill="#fff" stroke="#fff" transform="translate(408.6,477.6) scale(0.86,1)">erve</text>
</g>
<rect x="5.3" y="248.2" width="4.7" height="1.7" fill="#2a2a2a"/><rect x="4.2" y="248.4" width="1.4" height="1.3" fill="#999"/><rect x="637.8" y="248.2" width="1.6" height="1.5" fill="#777"/>
</svg>
</body></html>
